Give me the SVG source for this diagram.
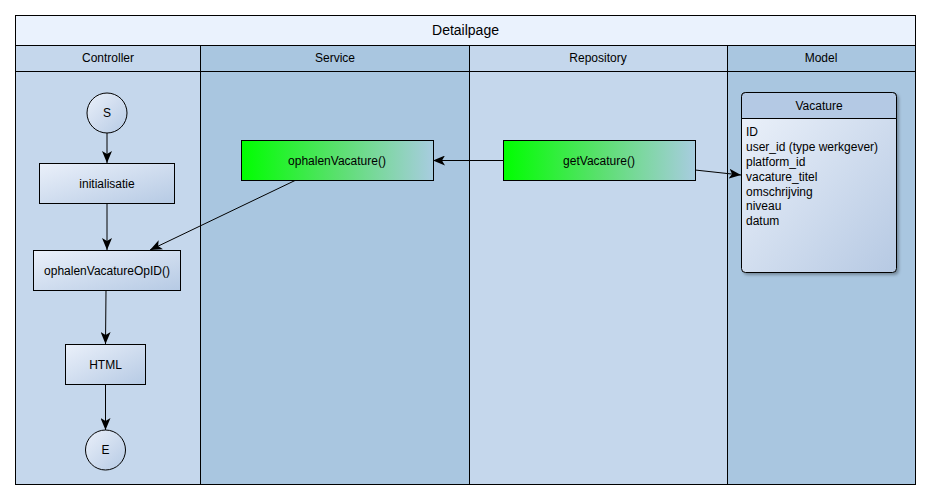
<svg xmlns="http://www.w3.org/2000/svg" width="931" height="499" viewBox="0 0 931 499">
<defs>
<linearGradient id="gBox" x1="0" y1="0" x2="1" y2="1">
<stop offset="0" stop-color="#eaf0fa"/>
<stop offset="1" stop-color="#b6cae4"/>
</linearGradient>
<linearGradient id="gGreen" x1="0" y1="0" x2="1" y2="0">
<stop offset="0" stop-color="#00ff00"/>
<stop offset="0.5" stop-color="#5ae06e"/>
<stop offset="1" stop-color="#a8cce0"/>
</linearGradient>
<linearGradient id="gClass" x1="0" y1="0" x2="1" y2="1">
<stop offset="0" stop-color="#eef3fb"/>
<stop offset="1" stop-color="#b6c9e3"/>
</linearGradient>
<marker id="arr" viewBox="0 0 12 10" refX="12" refY="5" markerWidth="12" markerHeight="10" markerUnits="userSpaceOnUse" orient="auto">
<path d="M0,0 L12,5 L0,10 L3,5 Z" fill="#000"/>
</marker>
<filter id="sh" x="-10%" y="-10%" width="130%" height="130%">
<feDropShadow dx="2" dy="2" stdDeviation="1.5" flood-color="#000" flood-opacity="0.3"/>
</filter>
</defs>
<style>
text{font-family:"Liberation Sans",Arial,sans-serif;fill:#000}
.lbl{font-size:12px;text-anchor:middle}
.box{fill:url(#gBox);stroke:#000;stroke-width:1}
.grn{fill:url(#gGreen);stroke:#000;stroke-width:1}
.lane{stroke:#000;stroke-width:1}
.edge{stroke:#000;stroke-width:1;fill:none;marker-end:url(#arr)}
</style>
<rect x="0" y="0" width="931" height="499" fill="#fff"/>
<g id="pool">
<rect x="15.5" y="15.5" width="900" height="30" fill="#eaf2fd" stroke="#000"/>
<text x="465.5" y="35" font-size="14" text-anchor="middle">Detailpage</text>
<rect class="lane" x="15.5" y="45.5" width="185" height="26" fill="#c5d7ec"/>
<rect class="lane" x="200.5" y="45.5" width="269" height="26" fill="#a9c6e0"/>
<rect class="lane" x="469.5" y="45.5" width="258" height="26" fill="#c5d7ec"/>
<rect class="lane" x="727.5" y="45.5" width="188" height="26" fill="#a9c6e0"/>
<rect class="lane" x="15.5" y="71.5" width="185" height="413" fill="#c5d7ec"/>
<rect class="lane" x="200.5" y="71.5" width="269" height="413" fill="#a9c6e0"/>
<rect class="lane" x="469.5" y="71.5" width="258" height="413" fill="#c5d7ec"/>
<rect class="lane" x="727.5" y="71.5" width="188" height="413" fill="#a9c6e0"/>
<text class="lbl" x="108" y="62">Controller</text>
<text class="lbl" x="335" y="62">Service</text>
<text class="lbl" x="598" y="62">Repository</text>
<text class="lbl" x="821" y="62">Model</text>
</g>
<g id="connectors">
<line class="edge" x1="107" y1="133" x2="107" y2="163"/>
<line class="edge" x1="107" y1="203" x2="107" y2="250"/>
<line class="edge" x1="106" y1="290" x2="105.5" y2="344"/>
<line class="edge" x1="105.5" y1="384" x2="105.5" y2="430"/>
<line class="edge" x1="295" y1="180.5" x2="150" y2="250"/>
<line class="edge" x1="503" y1="160.5" x2="433" y2="160.5"/>
<line class="edge" x1="695" y1="170" x2="741" y2="175"/>
</g>
<g id="start">
<circle cx="107" cy="113" r="20" class="box"/>
<text class="lbl" x="107" y="117">S</text>
</g>
<g id="initialisatie">
<rect class="box" x="39.5" y="163.5" width="135" height="40"/>
<text class="lbl" x="107" y="188">initialisatie</text>
</g>
<g id="ophalenVacatureOpID">
<rect class="box" x="33.5" y="250.5" width="147" height="40"/>
<text class="lbl" x="107" y="275">ophalenVacatureOpID()</text>
</g>
<g id="html">
<rect class="box" x="65.5" y="344.5" width="80" height="40"/>
<text class="lbl" x="105.5" y="369">HTML</text>
</g>
<g id="end">
<circle cx="105.5" cy="450" r="20" class="box"/>
<text class="lbl" x="105.5" y="454">E</text>
</g>
<g id="ophalenVacature">
<rect class="grn" x="241.5" y="140.5" width="192" height="40"/>
<text class="lbl" x="337" y="165">ophalenVacature()</text>
</g>
<g id="getVacature">
<rect class="grn" x="503.5" y="140.5" width="192" height="40"/>
<text class="lbl" x="599" y="165">getVacature()</text>
</g>
<g id="vacature">
<rect x="741.5" y="92.5" width="155" height="180" rx="4" fill="url(#gClass)" stroke="#000" filter="url(#sh)"/>
<path d="M741.5,118.5 V96.5 Q741.5,92.5 745.5,92.5 H892.5 Q896.5,92.5 896.5,96.5 V118.5 Z" fill="#b4c9e4" stroke="#000"/>
<text class="lbl" x="819" y="110">Vacature</text>
<g font-size="12">
<text x="746" y="136">ID</text>
<text x="746" y="151">user_id (type werkgever)</text>
<text x="746" y="166">platform_id</text>
<text x="746" y="181">vacature_titel</text>
<text x="746" y="196">omschrijving</text>
<text x="746" y="210">niveau</text>
<text x="746" y="225">datum</text>
</g>
</g>
</svg>
